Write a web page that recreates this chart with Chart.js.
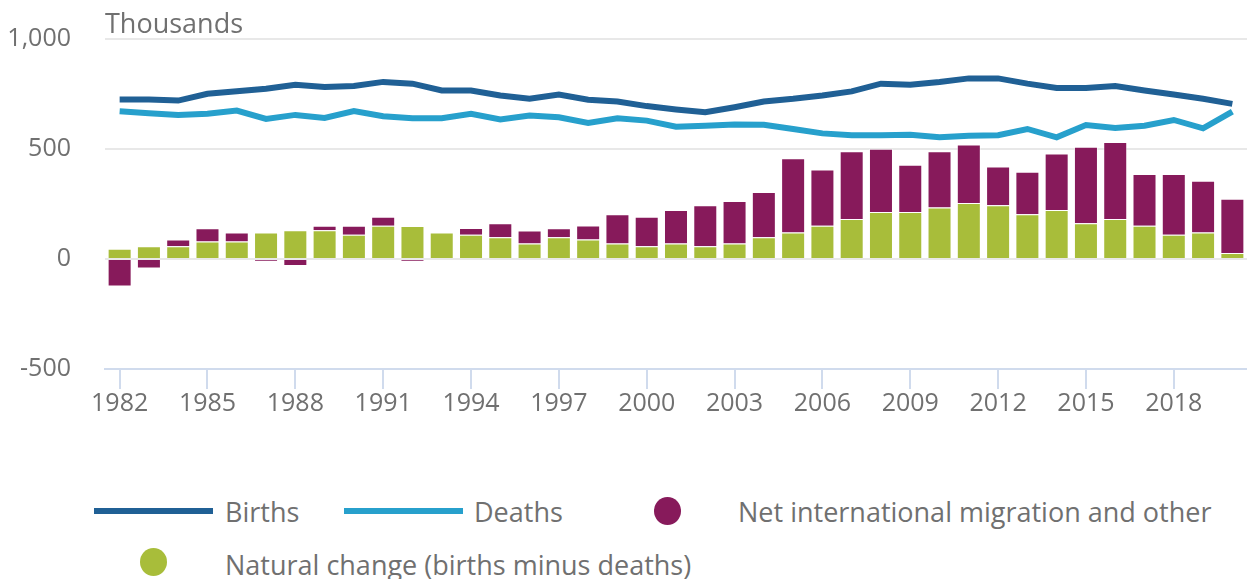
<!DOCTYPE html>
<html>
<head>
<meta charset="utf-8">
<title>Population change</title>
<script src="https://cdn.jsdelivr.net/npm/chart.js@4.4.0/dist/chart.umd.min.js"></script>
<style>
  body { margin: 0; background: #fff; font-family: "Open Sans", sans-serif; color: #707070; }
  #wrap { position: relative; width: 1247px; height: 579px; overflow: hidden; }
  #chartBox { position: absolute; left: 0; top: 0; width: 1247px; height: 419px; }
  .lg-line { position: absolute; height: 6px; }
  .lg-dot { position: absolute; width: 27px; height: 28px; border-radius: 50%; }
  .lg-text { position: absolute; font-size: 27px; line-height: 27px; white-space: nowrap; color: #707070; }
</style>
</head>
<body>
<div id="wrap">
  <div id="chartBox"><canvas id="chart"></canvas></div>

  <div class="lg-line" style="left:94px;top:508px;width:119px;background:#206095"></div>
  <div class="lg-text" style="left:225px;top:498px">Births</div>
  <div class="lg-line" style="left:344px;top:508px;width:119px;background:#27a0cc"></div>
  <div class="lg-text" style="left:474px;top:498px">Deaths</div>
  <div class="lg-dot" style="left:654px;top:497px;background:#871a5b"></div>
  <div class="lg-text" style="left:738px;top:498px">Net international migration and other</div>
  <div class="lg-dot" style="left:140px;top:548px;background:#a8bd3a"></div>
  <div class="lg-text" style="left:225px;top:551px">Natural change (births minus deaths)</div>
</div>

<script>
// Years (mid-year periods)
const years = ['1982','1983','1984','1985','1986','1987','1988','1989','1990','1991',
               '1992','1993','1994','1995','1996','1997','1998','1999','2000','2001',
               '2002','2003','2004','2005','2006','2007','2008','2009','2010','2011',
               '2012','2013','2014','2015','2016','2017','2018','2019','2020'];

// Thousands
const births = [725, 725, 720, 751, 762, 774, 792, 782, 786, 805,
                797, 766, 766, 743, 728, 748, 724, 716, 695, 680,
                667, 690, 716, 728, 743, 762, 797, 792, 805, 821,
                821, 797, 777, 777, 786, 766, 748, 728, 705];

const deaths = [672, 663, 655, 660, 675, 637, 655, 641, 672, 649,
                640, 640, 660, 634, 652, 644, 618, 640, 629, 601,
                606, 611, 610, 591, 571, 563, 563, 565, 553, 560,
                563, 591, 553, 609, 596, 606, 632, 594, 670];

const naturalChange = [47, 58, 58, 79, 79, 121, 131, 131, 110, 151,
                       150, 121, 110, 99, 70, 99, 89, 70, 58, 70,
                       58, 70, 99, 121, 151, 182, 214, 214, 234, 255,
                       244, 203, 223, 162, 182, 151, 110, 121, 27];

const netMigration = [-125, -43, 31, 61, 41, -12, -32, 20, 41, 41,
                      -12, 0, 31, 63, 60, 41, 63, 133, 134, 153,
                      186, 194, 206, 337, 256, 308, 287, 214, 256, 266,
                      176, 194, 256, 348, 350, 235, 276, 235, 247];

const yTicks = [-500, 0, 500, 1000];

Chart.defaults.font.family = '"Open Sans", sans-serif';
Chart.defaults.color = '#707070';

// "Thousands" label above the plot
const unitTitle = {
    id: 'unitTitle',
    afterDraw(chart) {
        const { ctx, chartArea } = chart;
        ctx.save();
        ctx.font = '27px "Open Sans"';
        ctx.fillStyle = '#707070';
        ctx.textBaseline = 'alphabetic';
        ctx.textAlign = 'left';
        ctx.fillText('Thousands', chartArea.left, 33);
        ctx.restore();
    }
};

const ctx = document.getElementById('chart').getContext('2d');
new Chart(ctx, {
    type: 'bar',
    data: {
        labels: years,
        datasets: [
            { type: 'line', label: 'Births', data: births, stack: 'births',
              borderColor: '#206095', borderWidth: 6, pointRadius: 0, tension: 0, order: 0 },
            { type: 'line', label: 'Deaths', data: deaths, stack: 'deaths',
              borderColor: '#27a0cc', borderWidth: 6, pointRadius: 0, tension: 0, order: 0 },
            { label: 'Natural change (births minus deaths)', data: naturalChange, stack: 'bars',
              backgroundColor: '#a8bd3a', borderColor: 'rgba(255,255,255,0.45)', borderWidth: 1, order: 1 },
            { label: 'Net international migration and other', data: netMigration, stack: 'bars',
              backgroundColor: '#871a5b', borderColor: 'rgba(255,255,255,0.45)', borderWidth: 1, order: 1 }
        ]
    },
    options: {
        responsive: true,
        maintainAspectRatio: false,
        animation: false,
        layout: { padding: { top: 39, right: 0, bottom: 0, left: 0 } },
        datasets: { bar: { barPercentage: 0.82, categoryPercentage: 1 } },
        plugins: { legend: { display: false }, tooltip: { enabled: false } },
        scales: {
            x: {
                stacked: true,
                grid: { display: true, drawOnChartArea: false, drawTicks: true,
                        tickLength: 20, offset: false, color: '#d0dbed', lineWidth: 2 },
                border: { display: true, color: '#d0dbed', width: 2 },
                ticks: {
                    autoSkip: false, maxRotation: 0, padding: 0,
                    font: { size: 25 }, color: '#707070',
                    callback: (value, index) => (index % 3 === 0) ? years[index] : null
                }
            },
            y: {
                stacked: true,
                min: yTicks[0],
                max: yTicks[yTicks.length - 1],
                afterBuildTicks: scale => { scale.ticks = yTicks.map(v => ({ value: v })); },
                afterFit: scale => { scale.width = 105; },
                // invisible tick marks give the gap between labels and plot
                grid: { drawTicks: true, tickLength: 34, tickColor: 'rgba(0,0,0,0)', lineWidth: 2,
                        color: c => (c.tick && c.tick.value === -500) ? 'rgba(0,0,0,0)' : '#e8e8e8' },
                border: { display: false },
                ticks: {
                    padding: 0, font: { size: 25 }, color: '#707070',
                    callback: v => String(v).replace(/\B(?=(\d{3})+(?!\d))/g, ',')
                }
            }
        }
    },
    plugins: [unitTitle]
});
</script>
</body>
</html>
